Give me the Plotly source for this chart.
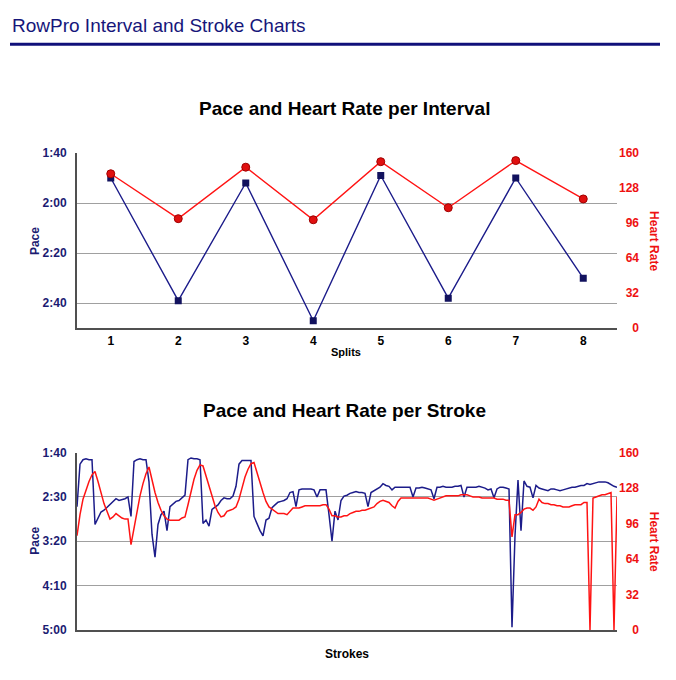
import plotly.graph_objects as go

# ---------------- data ----------------
splits = [1, 2, 3, 4, 5, 6, 7, 8]
interval_pace_s = [110, 159, 112, 167, 109, 158, 110, 150]   # seconds per 500 m
interval_hr = [141, 100, 147, 99, 152, 110, 153, 118]

interval_pace_ticks = [100, 120, 140, 160]
interval_pace_labels = ["1:40", "2:00", "2:20", "2:40"]
hr_ticks = [0, 32, 64, 96, 128, 160]
hr_labels = ["0", "32", "64", "96", "128", "160"]
stroke_pace_ticks = [100, 150, 200, 250, 300]
stroke_pace_labels = ["1:40", "2:30", "3:20", "4:10", "5:00"]

stroke_pace_s = [
    161, 113, 108, 107, 108, 108, 181, 173, 167, 165,
    162, 159, 155, 152, 154, 153, 152, 150, 172, 110,
    108, 107, 108, 108, 133, 192, 218, 181, 170, 166,
    188, 161, 158, 155, 154, 151, 148, 108, 106, 107,
    107, 108, 180, 176, 183, 164, 162, 159, 154, 151,
    152, 152, 149, 138, 113, 109, 109, 109, 109, 172,
    181, 188, 194, 176, 174, 162, 159, 156, 155, 154,
    152, 145, 144, 161, 142, 141, 141, 141, 141, 142,
    150, 142, 142, 142, 170, 200, 166, 176, 154, 149,
    148, 146, 145, 144, 145, 145, 146, 161, 145, 143,
    141, 139, 135, 137, 138, 142, 139, 139, 139, 139,
    139, 139, 150, 140, 140, 139, 140, 141, 142, 152,
    139, 139, 138, 139, 139, 139, 138, 138, 137, 150,
    139, 139, 139, 139, 138, 139, 140, 142, 141, 151,
    141, 139, 139, 140, 141, 297, 194, 131, 188, 132,
    138, 139, 151, 137, 140, 141, 142, 143, 141, 141,
    142, 143, 142, 141, 140, 139, 139, 138, 137, 137,
    135, 136, 135, 134, 133, 133, 133, 134, 136, 138, 139,
]
stroke_hr = [
    85, 104, 118, 127, 134, 140, 143, 134, 124, 114,
    107, 100, 102, 105, 103, 101, 100, 100, 77, 92,
    108, 121, 132, 141, 147, 134, 124, 115, 108, 103,
    100, 99, 99, 99, 99, 101, 102, 113, 126, 136,
    144, 149, 148, 139, 129, 121, 112, 106, 102, 103,
    107, 108, 109, 111, 118, 128, 138, 145, 150, 151,
    141, 133, 124, 116, 111, 109, 107, 105, 105, 105,
    104, 107, 110, 110, 110, 111, 112, 112, 112, 112,
    112, 112, 113, 113, 109, 103, 103, 102, 102, 103,
    103, 105, 106, 107, 107, 108, 108, 109, 110, 111,
    114, 116, 117, 116, 115, 112, 110, 116, 119, 119,
    119, 119, 119, 119, 119, 119, 119, 119, 118, 117,
    118, 119, 120, 121, 121, 121, 121, 121, 122, 122,
    122, 121, 120, 120, 120, 119, 119, 119, 119, 119,
    118, 118, 118, 117, 117, 84, 104, 104, 106, 109,
    110, 110, 108, 111, 118, 115, 114, 114, 113, 113,
    112, 112, 111, 111, 111, 112, 113, 113, 113, 115,
    115, 0, 119, 120, 121, 122, 122, 123, 124, 0, 120,
]
strokes = list(range(len(stroke_pace_s)))

# ---------------- styling ----------------
W, H = 676, 680
NAVY_TXT = "#1b1b72"
NAVY = "#1c1c8a"
RED = "#ff1414"
RED_TXT = "#ee1111"
AXIS = "#505050"
GRID = "#a0a0a0"
FONT = "Liberation Sans, Arial, Helvetica, sans-serif"


def px(x):
    return x / W


def py(y):
    return 1 - y / H


# right-align the heart-rate tick labels (digit width = two no-break spaces)
width = max(len(s) for s in hr_labels)
hr_labels_aligned = ["\u00a0" * (2 * (width - len(s))) + s for s in hr_labels]

xdom = [px(77), px(617)]
top_dom = [py(328), py(149)]
bot_dom = [py(636), py(455)]

fig = go.Figure()

fig.add_trace(go.Scatter(
    x=splits, y=interval_pace_s, xaxis="x", yaxis="y", mode="lines+markers",
    line=dict(color=NAVY, width=1.4),
    marker=dict(symbol="square", size=7, color="#12125e"),
    showlegend=False, hoverinfo="skip"))
fig.add_trace(go.Scatter(
    x=splits, y=interval_hr, xaxis="x", yaxis="y2", mode="lines+markers",
    line=dict(color=RED, width=1.4),
    marker=dict(symbol="circle", size=8, color="#e01010",
                line=dict(color="#a00000", width=1)),
    showlegend=False, hoverinfo="skip"))

fig.add_trace(go.Scatter(
    x=strokes, y=stroke_pace_s, xaxis="x2", yaxis="y3", mode="lines",
    line=dict(color=NAVY, width=1.5),
    showlegend=False, hoverinfo="skip"))
fig.add_trace(go.Scatter(
    x=strokes, y=stroke_hr, xaxis="x2", yaxis="y4", mode="lines",
    line=dict(color=RED, width=1.5),
    showlegend=False, hoverinfo="skip"))

pace_font = dict(family=FONT, size=12, color=NAVY_TXT, weight="bold")
hr_font = dict(family=FONT, size=12, color=RED_TXT, weight="bold")

common_x = dict(domain=xdom, showline=True, linecolor=AXIS, linewidth=2,
                showgrid=False, zeroline=False, ticks="", fixedrange=True)
common_pace = dict(showline=True, linecolor=AXIS, linewidth=2, showgrid=True,
                   gridcolor=GRID, gridwidth=1, zeroline=False, ticks="",
                   tickfont=pace_font, ticklabelstandoff=6)
common_hr = dict(side="right", showgrid=False, showline=False, zeroline=False,
                 ticks="", tickfont=hr_font, range=[0, 160],
                 tickvals=hr_ticks, ticktext=hr_labels_aligned,
                 ticklabelstandoff=1)

fig.update_layout(
    width=W, height=H, margin=dict(l=0, r=0, t=0, b=0),
    paper_bgcolor="white", plot_bgcolor="white",
    font=dict(family=FONT),
    xaxis=dict(**common_x, anchor="y", range=[0.5, 8.5], tickvals=splits,
               tickfont=dict(family=FONT, size=12, color="black", weight="bold")),
    yaxis=dict(**common_pace, domain=top_dom, anchor="x", range=[170, 100],
               tickvals=interval_pace_ticks, ticktext=interval_pace_labels),
    yaxis2=dict(**common_hr, overlaying="y", anchor="x"),
    xaxis2=dict(**common_x, anchor="y3", range=[0, len(strokes) - 1],
                showticklabels=False),
    yaxis3=dict(**common_pace, domain=bot_dom, anchor="x2", range=[300, 100],
                tickvals=stroke_pace_ticks, ticktext=stroke_pace_labels),
    yaxis4=dict(**common_hr, overlaying="y3", anchor="x2"),
)

# header rule
fig.add_shape(type="line", xref="paper", yref="paper",
              x0=px(10), x1=px(660), y0=py(38), y1=py(38),
              line=dict(color="#10107a", width=3))

ann = [
    dict(text="RowPro Interval and Stroke Charts", x=px(10), y=py(19),
         xanchor="left", font=dict(size=19, color="#16167a")),
    dict(text="<b>Pace and Heart Rate per Interval</b>", x=px(344), y=py(104),
         font=dict(size=19, color="black")),
    dict(text="<b>Pace and Heart Rate per Stroke</b>", x=px(344), y=py(412),
         font=dict(size=19, color="black")),
    dict(text="<b>Pace</b>", x=px(35), y=py(239), textangle=-90,
         font=dict(size=12, color=NAVY_TXT)),
    dict(text="<b>Pace</b>", x=px(35), y=py(545), textangle=-90,
         font=dict(size=12, color=NAVY_TXT)),
    dict(text="<b>Heart Rate</b>", x=px(654), y=py(239), textangle=90,
         font=dict(size=12, color=RED_TXT)),
    dict(text="<b>Heart Rate</b>", x=px(654), y=py(546), textangle=90,
         font=dict(size=12, color=RED_TXT)),
    dict(text="<b>Splits</b>", x=px(346), y=py(352),
         font=dict(size=11, color="black")),
    dict(text="<b>Strokes</b>", x=px(347), y=py(661),
         font=dict(size=12, color="black")),
]
for a in ann:
    a.setdefault("xanchor", "center")
    a.update(xref="paper", yref="paper", yanchor="middle", showarrow=False)
    a["font"] = dict(family=FONT, **a["font"])
    fig.add_annotation(**a)

fig.write_html("out.html")
